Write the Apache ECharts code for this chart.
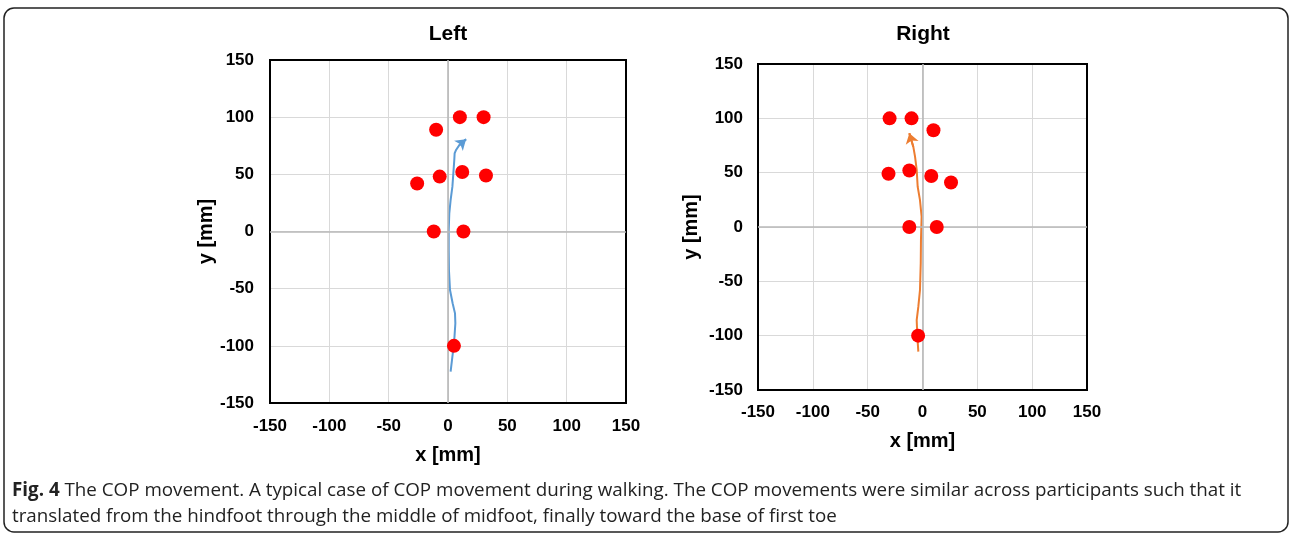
<!DOCTYPE html>
<html>
<head>
<meta charset="utf-8">
<script src="https://cdn.jsdelivr.net/npm/echarts@6/dist/echarts.min.js"></script>
<style>
html,body{margin:0;padding:0;background:#fff;}
#chart{width:1289px;height:538px;}
</style>
</head>
<body>
<div id="chart"></div>
<script>
// ---- data ----
var panelTitles = ['Left', 'Right'];
var axisTicks = [-150, -100, -50, 0, 50, 100, 150];
var leftMarkers = [[10,100],[30,100],[-10,89],[-7,48],[-26,42],[12,52],[32,49],[-12,0],[13,0],[5,-100]];
var rightMarkers = [[-30,100],[-10,100],[10,89],[-31,49],[-12,52],[8,47],[26,41],[-12,0],[13,0],[-4,-100]];
var leftPath = [[2.2,-122.6],[3.7,-109.5],[5.1,-97.8],[6.2,-80.3],[5.9,-71.6],[3.9,-62.8],[1.7,-51.2],[0.8,-33.7],[0.6,-16.2],[0.6,1.3],[1.1,15.9],[2.2,27.5],[3.7,39.2],[4.5,50.9],[5.3,62.5],[5.6,68.4],[6.8,71.3],[9.5,75.5],[15.2,80.6]];
var rightPath = [[-3.8,-114.7],[-4.7,-100.9],[-5.3,-85.6],[-3.8,-73.3],[-2.3,-58],[-1.6,-33.4],[-1.4,-12],[-0.8,9.5],[-2.3,24.8],[-4.4,37.1],[-5.3,52.5],[-6.8,64.7],[-8.4,73.9],[-12,86.2]];
var captionBold = 'Fig. 4';
var captionLine1 = ' The COP movement. A typical case of COP movement during walking. The COP movements were similar across participants such that it';
var captionLine2 = 'translated from the hindfoot through the middle of midfoot, finally toward the base of first toe';

var chart = echarts.init(document.getElementById('chart'));
var labelFont = {fontFamily: 'Liberation Sans, Arial, sans-serif', fontWeight: 'bold', fontSize: 17, color: '#000'};
var nameFont = {fontFamily: 'Liberation Sans, Arial, sans-serif', fontWeight: 'bold', fontSize: 20, color: '#000'};

function makeAxis(idx, gap, nameGap, nm) {
  return {
    type: 'value', gridIndex: idx, min: -150, max: 150, interval: 50,
    name: nm, nameLocation: 'middle', nameGap: nameGap, nameTextStyle: nameFont,
    axisLine: {show: false}, axisTick: {show: false},
    axisLabel: Object.assign({margin: gap}, labelFont),
    splitLine: {show: true, lineStyle: {color: '#d9d9d9', width: 1}}
  };
}

var zeroLines = {
  silent: true, symbol: 'none', label: {show: false},
  lineStyle: {color: '#b8b8b8', width: 1.6, type: 'solid'},
  data: [{xAxis: 0}, {yAxis: 0}]
};

function pathSeries(idx, path, color) {
  return [
    {type: 'lines', coordinateSystem: 'cartesian2d', xAxisIndex: idx, yAxisIndex: idx, polyline: true, z: 4,
      lineStyle: {color: color, width: 2, opacity: 1},
      data: [{coords: path}],
      markLine: zeroLines},
    {type: 'lines', coordinateSystem: 'cartesian2d', xAxisIndex: idx, yAxisIndex: idx, z: 4,
      symbol: ['none', 'arrow'], symbolSize: 10,
      lineStyle: {color: color, width: 2, opacity: 1},
      data: [{coords: [path[path.length - 2], path[path.length - 1]]}]}
  ];
}

chart.setOption({
  animation: false,
  grid: [
    {left: 270, top: 60, width: 356, height: 343, show: true, borderColor: '#000', borderWidth: 2, backgroundColor: 'transparent', z: 3},
    {left: 758, top: 64, width: 329, height: 326, show: true, borderColor: '#000', borderWidth: 2, backgroundColor: 'transparent', z: 3}
  ],
  xAxis: [makeAxis(0, 15, 42, 'x [mm]'), makeAxis(1, 14, 41, 'x [mm]')],
  yAxis: [makeAxis(0, 16, 54, 'y [mm]'), makeAxis(1, 15, 57, 'y [mm]')],
  graphic: [
    {type: 'rect', shape: {x: 4, y: 8, width: 1284, height: 524, r: 10}, style: {fill: 'none', stroke: '#222', lineWidth: 1.5}, silent: true},
    {type: 'text', x: 448, y: 34, style: {text: panelTitles[0], textAlign: 'center', textVerticalAlign: 'middle', font: 'bold 21px Liberation Sans, Arial, sans-serif', fill: '#000'}},
    {type: 'text', x: 923, y: 34, style: {text: panelTitles[1], textAlign: 'center', textVerticalAlign: 'middle', font: 'bold 21px Liberation Sans, Arial, sans-serif', fill: '#000'}},
    {type: 'text', x: 12, y: 478, style: {
      text: '{b|' + captionBold + '}{n|' + captionLine1 + '}\n{n|' + captionLine2 + '}',
      rich: {
        b: {fontFamily: 'Open Sans', fontWeight: 'bold', fontSize: 18.8, lineHeight: 26, fill: '#222'},
        n: {fontFamily: 'Open Sans', fontWeight: 'normal', fontSize: 18.8, lineHeight: 26, fill: '#222'}
      }
    }}
  ],
  series: pathSeries(0, leftPath, '#5b9bd5').concat([
    {type: 'scatter', xAxisIndex: 0, yAxisIndex: 0, symbolSize: 14, z: 5,
      itemStyle: {color: '#ff0000', opacity: 1}, data: leftMarkers}
  ]).concat(pathSeries(1, rightPath, '#ed7d31')).concat([
    {type: 'scatter', xAxisIndex: 1, yAxisIndex: 1, symbolSize: 14, z: 5,
      itemStyle: {color: '#ff0000', opacity: 1}, data: rightMarkers}
  ])
});
</script>
</body>
</html>
